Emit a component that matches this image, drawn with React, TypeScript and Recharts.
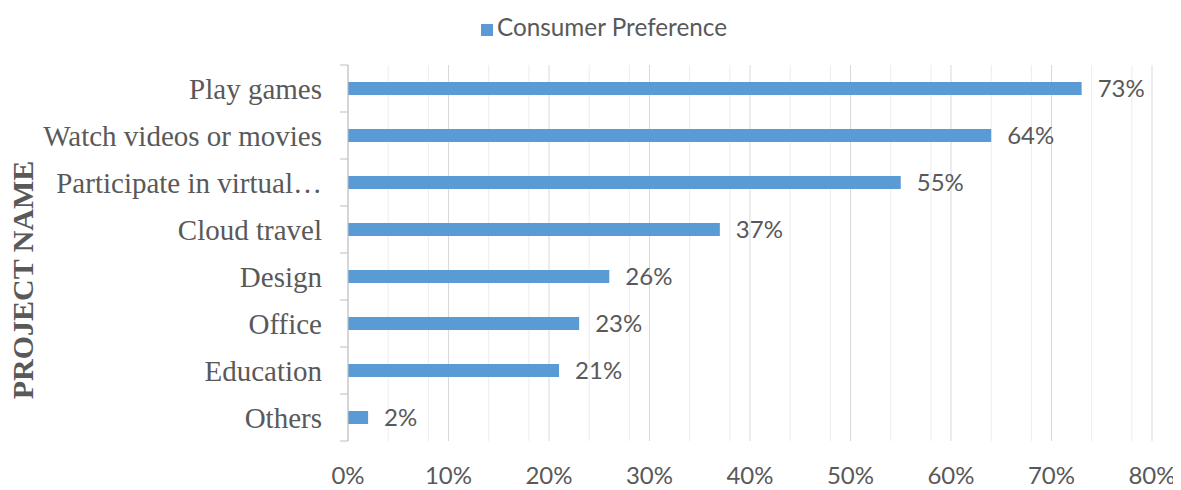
import { BarChart, Bar, XAxis, YAxis, CartesianGrid, Legend, LabelList, Text } from "recharts";

// values
const categories = [
  "Play games",
  "Watch videos or movies",
  "Participate in virtual…",
  "Cloud travel",
  "Design",
  "Office",
  "Education",
  "Others",
];
const preference = [0.73, 0.64, 0.55, 0.37, 0.26, 0.23, 0.21, 0.02];

const majorTicks = [0, 0.1, 0.2, 0.3, 0.4, 0.5, 0.6, 0.7, 0.8];
const minorTicks = [
  0.02, 0.04, 0.06, 0.08, 0.12, 0.14, 0.16, 0.18, 0.22, 0.24, 0.26, 0.28,
  0.32, 0.34, 0.36, 0.38, 0.42, 0.44, 0.46, 0.48, 0.52, 0.54, 0.56, 0.58,
  0.62, 0.64, 0.66, 0.68, 0.72, 0.74, 0.76, 0.78,
];

const BLUE = "#5B9BD5";
const TEXT = "#595959";
const AXIS = "#bfbfbf";
const SANS = "Lato, 'Open Sans', sans-serif";
const SERIF = "'Liberation Serif', 'Times New Roman', serif";
const LABEL_GAP = 26;

const pct = (v: number) => `${Math.round(v * 100)}%`;

// category label plus the Excel style tick marks between categories
function CategoryTick(props: any) {
  const { x, y, payload, index, visibleTicksCount } = props;
  const axisX = x + LABEL_GAP;
  const half = payload.offset || 0;
  const isLast = index === visibleTicksCount - 1;
  return (
    <g>
      <line x1={axisX - 8} x2={axisX} y1={y - half} y2={y - half} stroke={AXIS} />
      {isLast && <line x1={axisX - 8} x2={axisX} y1={y + half} y2={y + half} stroke={AXIS} />}
      <Text
        x={x}
        y={y}
        textAnchor="end"
        verticalAnchor="middle"
        fill={TEXT}
        fontSize={29}
        fontFamily={SERIF}
      >
        {payload.value}
      </Text>
    </g>
  );
}

export default function App() {
  const data = categories.map((name, i) => ({ name, value: preference[i] }));

  return (
    <div style={{ width: 1173, height: 482 }}>
      <BarChart
        width={1173}
        height={482}
        data={data}
        layout="vertical"
        margin={{ top: 57, right: 29, left: 0, bottom: 8 }}
      >
        {/* light minor lines every 2% */}
        <CartesianGrid horizontal={false} stroke="#ececec" verticalValues={minorTicks} />
        {/* darker majors every 10% */}
        <CartesianGrid horizontal={false} stroke="#d9d9d9" />

        <YAxis
          dataKey="name"
          type="category"
          width={340}
          axisLine={{ stroke: AXIS }}
          tickLine={false}
          tickSize={0}
          tickMargin={LABEL_GAP}
          tick={<CategoryTick />}
          label={{
            content: () => (
              <text
                x={25}
                y={272}
                transform="rotate(-90 25 272)"
                textAnchor="middle"
                fill={TEXT}
                fontSize={30}
                fontWeight="bold"
                fontFamily={SERIF}
              >
                PROJECT NAME
              </text>
            ),
          }}
        />
        <XAxis
          type="number"
          domain={[0, 0.8]}
          ticks={majorTicks}
          tickFormatter={pct}
          axisLine={false}
          tickLine={false}
          tickSize={0}
          tickMargin={26}
          height={41}
          tick={{ fill: TEXT, fontSize: 24, fontFamily: SANS }}
        />
        <Legend
          verticalAlign="middle"
          align="center"
          iconType="square"
          iconSize={12}
          wrapperStyle={{ top: 4, left: 29, fontFamily: SANS, fontSize: 24.3 }}
          formatter={(v) => <span style={{ color: TEXT }}>{v}</span>}
        />
        <Bar dataKey="value" name="Consumer Preference" fill={BLUE} barSize={13} isAnimationActive={false}>
          <LabelList
            dataKey="value"
            position="right"
            offset={16}
            formatter={(v: any) => pct(Number(v))}
            fill={TEXT}
            fontSize={24}
            fontFamily={SANS}
          />
        </Bar>
      </BarChart>
    </div>
  );
}
